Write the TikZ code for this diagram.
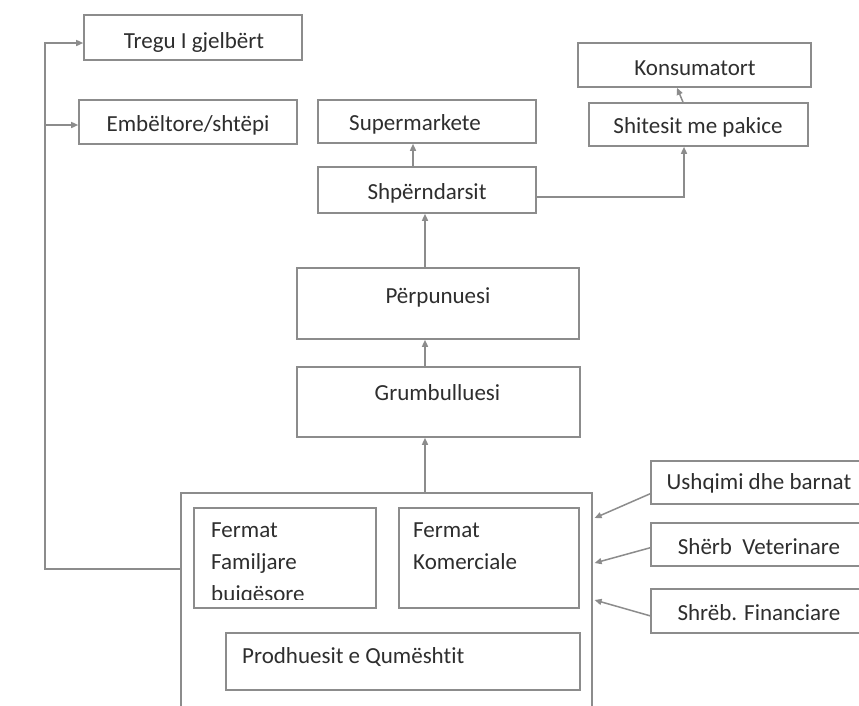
\documentclass[tikz,border=0pt]{standalone}
\usepackage{fontspec}
\setmainfont{Carlito}[Ligatures=NoCommon]
\usetikzlibrary{arrows.meta,calc}
\definecolor{ln}{HTML}{8C8C8C}
\definecolor{tx}{HTML}{2E2E2E}
\begin{document}
\begin{tikzpicture}[x=1pt,y=-1pt,
  box/.style={draw=ln,line width=1.6pt,rectangle,inner sep=0pt},
  txt/.style={text=tx,inner sep=0pt,font=\fontsize{23}{32}\selectfont},
  arr/.style={draw=ln,line width=1.5pt,-{Triangle[length=7pt,width=6pt]}}]
\clip (0,0) rectangle (859,705);
\fill[white] (0,0) rectangle (859,705);
% boxes
\node[box,minimum width=218,minimum height=45] (tregu) at (193,37.5) {};
\node[txt] (tregut) at (194,42) {Tregu I gjelbërt};
\node[box,minimum width=218,minimum height=44] (emb) at (188,122) {};
\node[txt] (embt) at (188,125) {Embëltore/shtëpi};
\node[box,minimum width=218,minimum height=43] (super) at (427,121.5) {};
\node[txt] (supert) at (415,124) {Supermarkete};
\node[box,minimum width=218,minimum height=46] (shp) at (427,190) {};
\node[txt] (shpt) at (427,193) {Shpërndarsit};
\node[box,minimum width=233,minimum height=44] (kons) at (694.5,65) {};
\node[txt] (konst) at (695,68) {Konsumatort};
\node[box,minimum width=219,minimum height=43] (shit) at (698.5,124.5) {};
\node[txt] (shitt) at (698,127) {Shitesit me pakice};
\node[box,minimum width=282,minimum height=71] (perp) at (438,303.5) {};
\node[txt] (perpt) at (438,297) {Përpunuesi};
\node[box,minimum width=283,minimum height=70] (grumb) at (438.5,402) {};
\node[txt] (grumbt) at (437.5,393) {Grumbulluesi};
\node[box,minimum width=411,minimum height=228,anchor=north west] (outer) at (180,492) {};
\node[box,minimum width=182,minimum height=100,anchor=north west] (fam) at (193,507) {};
\begin{scope}
\clip (193,507) rectangle (375,599);
\node[txt,align=left,anchor=north west] (famt) at (211,523) {Fermat\\Familjare\\bujqësore};
\end{scope}
\node[box,minimum width=180,minimum height=100,anchor=north west] (kom) at (398,507) {};
\node[txt,align=left,anchor=north west] (komt) at (413,523) {Fermat\\Komerciale};
\node[box,minimum width=354,minimum height=57,anchor=north west] (prod) at (225,632) {};
\node[txt,anchor=west] (prodt) at (242,657) {Prodhuesit e Qumështit};
\node[box,minimum width=218,minimum height=43,anchor=north west] (ush) at (650,460) {};
\node[txt] (usht) at (759,483) {Ushqimi dhe barnat};
\node[box,minimum width=218,minimum height=43,anchor=north west] (vet) at (650,522) {};
\node[txt] (vett) at (759,547) {Shërb~ Veterinare};
\node[box,minimum width=218,minimum height=44,anchor=north west] (fin) at (650,588) {};
\node[txt] (fint) at (759,613) {Shrëb. Financiare};
% helper coordinates
\coordinate (xa) at (413,0);
\coordinate (xb) at (425,0);
\coordinate (xc) at (684,0);
\coordinate (xl) at (45,0);
\coordinate (yc) at (0,197);
\coordinate (ol) at ($(outer.north west)+(0,77)$);
\coordinate (ea) at ($(emb.west)+(0,3)$);
\coordinate (ta) at ($(tregu.west)+(0,5.5)$);
% connectors
\draw[arr] (shp.north -| xa) -- (super.south -| xa);
\draw[arr] (perp.north -| xb) -- (shp.south -| xb);
\draw[arr] (grumb.north -| xb) -- (perp.south -| xb);
\draw[arr] (outer.north -| xb) -- (grumb.south -| xb);
\draw[arr] (shp.east |- yc) -| (shit.south -| xc);
\draw[arr] ($(shit.north)+(-15.5,0)$) -- ($(kons.south)+(-17.5,0)$);
\draw[arr] ($(ush.west)+(0,11.5)$) -- ($(outer.north east)+(2,26)$);
\draw[arr] ($(vet.west)+(0,3.5)$) -- ($(outer.north east)+(2,71)$);
\draw[arr] ($(fin.west)+(0,5)$) -- ($(outer.north east)+(2,108)$);
\draw[arr] (ol) -- (ol -| xl) |- (ta);
\draw[arr] (ea -| xl) -- (ea);
\end{tikzpicture}
\end{document}
